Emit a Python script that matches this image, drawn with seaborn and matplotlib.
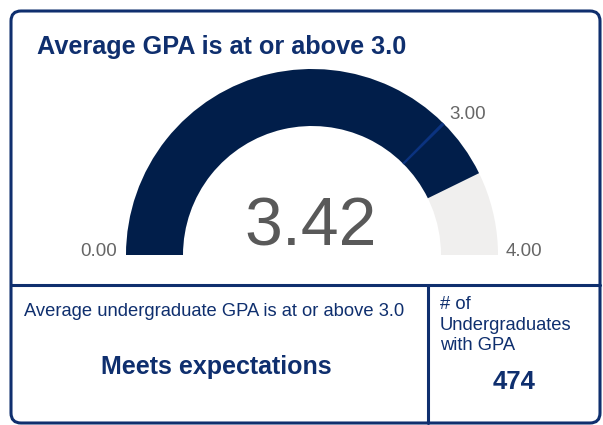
import seaborn as sns
import matplotlib.pyplot as plt
from matplotlib.patches import Wedge, FancyBboxPatch

# gauge values
gpa_min = 0.0
gpa_max = 4.0
gpa_target = 3.0
gpa_avg = 3.42
n_undergrads = 474

title = "Average GPA is at or above 3.0"
kpi_label = "Average undergraduate GPA is at or above 3.0"
kpi_status = "Meets expectations"
count_label = "# of\nUndergraduates\nwith GPA"

navy = "#0f2f6e"
fill = "#011e4a"
track = "#f0efee"
grey = "#666666"

sns.set_theme(style="white")
plt.rcParams["font.family"] = ["Liberation Sans", "DejaVu Sans"]

fig = plt.figure(figsize=(6.03, 4.25), dpi=100)
ax = fig.add_axes([0, 0, 1, 1])
ax.set_xlim(0, 603)
ax.set_ylim(0, 425)
ax.axis("off")

# card frame and dividers
ax.add_patch(FancyBboxPatch((11, 2), 589, 412, boxstyle="round,pad=0,rounding_size=10",
                            fill=False, ec=navy, lw=2.2))
ax.plot([11, 600], [140, 140], color=navy, lw=2.2)
ax.plot([428, 428], [2, 140], color=navy, lw=2.2)

# gauge
cx, cy, R, w = 312, 170, 186, 57


def ang(v):
    return 180 - (v - gpa_min) / (gpa_max - gpa_min) * 180


ax.add_patch(Wedge((cx, cy), R, 0, 180, width=w, color=track, lw=0))
ax.add_patch(Wedge((cx, cy), R, ang(gpa_avg), 180, width=w, color=fill, lw=0))
ax.add_patch(Wedge((cx, cy), R, ang(gpa_target) - 0.5, ang(gpa_target) + 0.5,
                   width=w, color="#0b3380", lw=0))

ax.text(cx - 1, 180, f"{gpa_avg:.2f}", ha="center", va="baseline",
        fontsize=49, color="#595959")
ax.text(117, 173, f"{gpa_min:.2f}", ha="right", va="center", fontsize=13.5, color=grey)
ax.text(506, 173, f"{gpa_max:.2f}", ha="left", va="center", fontsize=13.5, color=grey)
ax.text(449, 311, f"{gpa_target:.2f}", ha="left", va="center", fontsize=13.5, color=grey)

ax.text(37, 378, title, ha="left", va="center", fontsize=18.2, fontweight="bold", color=navy)

# bottom tiles
ax.text(24, 113, kpi_label, ha="left", va="center", fontsize=13.2, color=navy)
ax.text(216, 58, kpi_status, ha="center", va="center", fontsize=18, fontweight="bold",
        color=navy)
ax.text(440, 100, count_label, ha="left", va="center", fontsize=13.2, color=navy,
        linespacing=1.25)
ax.text(514, 43, f"{n_undergrads}", ha="center", va="center", fontsize=18.5,
        fontweight="bold", color=navy)

fig.savefig("out.png", dpi=100)
